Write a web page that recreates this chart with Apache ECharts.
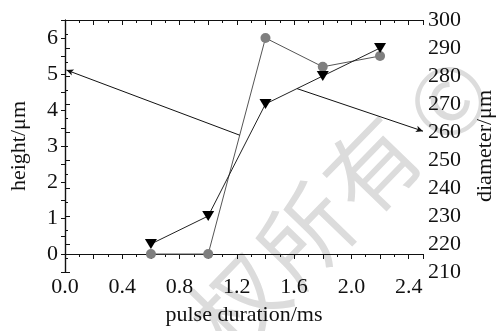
<!DOCTYPE html>
<html>
<head>
<meta charset="utf-8">
<script src="https://cdn.jsdelivr.net/npm/echarts@6/dist/echarts.min.js"></script>
<style>
  html, body { margin: 0; padding: 0; background: #fff; }
  #chart { width: 504px; height: 331px; }
</style>
</head>
<body>
<div id="chart"></div>
<script>
// values
const pulse = [0.6, 1.0, 1.4, 1.8, 2.2];          // pulse duration / ms
const height = [0, 0, 6.0, 5.2, 5.5];             // height / um (left axis)
const diameter = [220, 230, 270, 280, 290];       // diameter / um (right axis)
const heightTicks = [0, 1, 2, 3, 4, 5, 6];
const heightMinor = [-0.5, 0, 0.5, 1, 1.5, 2, 2.5, 3, 3.5, 4, 4.5, 5, 5.5, 6, 6.5];
// arrows: from the curve to its own axis
const heightArrow = [[1.22, 3.3], [0.01, 5.11]];
const diameterArrow = [[1.62, 275.5], [2.5, 260.3]];

const font = '"Liberation Serif", "DejaVu Serif", serif';
const ink = '#111';
const wm = '92px "Noto Sans CJK SC"';

let chart = echarts.init(document.getElementById('chart'));

let option = {
    animation: false,
    backgroundColor: '#fff',
    textStyle: { fontFamily: font, color: ink },
    grid: { left: 62.5, right: 72, top: 20, bottom: 54 },
    graphic: [
        // faint watermark behind the plot
        { type: 'text', z: -10, x: 238, y: 304, rotation: 0.8, style: { text: '权', font: wm, fill: '#dcdcdc', align: 'center', verticalAlign: 'middle' } },
        { type: 'text', z: -10, x: 305, y: 235, rotation: 0.8, style: { text: '所', font: wm, fill: '#dcdcdc', align: 'center', verticalAlign: 'middle' } },
        { type: 'text', z: -10, x: 372, y: 166, rotation: 0.8, style: { text: '有', font: wm, fill: '#dcdcdc', align: 'center', verticalAlign: 'middle' } },
        { type: 'text', z: -10, x: 448, y: 100, rotation: 0.8, style: { text: '©', font: wm, fill: '#dcdcdc', align: 'center', verticalAlign: 'middle' } }
    ],
    xAxis: [
        {
            type: 'value',
            min: 0,
            max: 2.5,
            interval: 0.2,
            name: 'pulse duration/ms',
            nameLocation: 'middle',
            nameGap: 32,
            nameTextStyle: { fontSize: 22, color: ink, fontFamily: font },
            axisLine: { show: true, lineStyle: { color: ink, width: 1.2 } },
            axisTick: { show: true, length: 5, lineStyle: { color: ink } },
            minorTick: { show: true, splitNumber: 2, length: 3, lineStyle: { color: ink } },
            splitLine: { show: false },
            axisLabel: {
                fontSize: 22,
                color: ink,
                fontFamily: font,
                margin: 4,
                showMaxLabel: false,
                formatter: function (v) {
                    let k = Math.round(v / 0.4);
                    return Math.abs(k * 0.4 - v) < 1e-6 ? v.toFixed(1) : '';
                }
            }
        },
        {
            type: 'value',
            position: 'top',
            min: 0,
            max: 2.5,
            interval: 0.2,
            axisLine: { show: true, lineStyle: { color: ink, width: 1.2 } },
            axisTick: { show: true, inside: true, length: 5, lineStyle: { color: ink } },
            minorTick: { show: true, splitNumber: 2, length: 3, lineStyle: { color: ink } },
            splitLine: { show: false },
            axisLabel: { show: false }
        }
    ],
    yAxis: [
        {
            type: 'value',
            position: 'left',
            min: -0.5,
            max: 6.5,
            name: 'height/\u03bcm',
            nameLocation: 'middle',
            nameRotate: 90,
            nameGap: 35,
            nameTextStyle: { fontSize: 22, color: ink, fontFamily: font },
            axisLine: { show: true, lineStyle: { color: ink, width: 1.2 } },
            axisTick: { show: true, length: 4, customValues: heightMinor, lineStyle: { color: ink } },
            splitLine: { show: false },
            axisLabel: { fontSize: 22, color: ink, fontFamily: font, margin: 7, customValues: heightTicks }
        },
        {
            type: 'value',
            position: 'right',
            min: 210,
            max: 300,
            interval: 10,
            name: 'diameter/\u03bcm',
            nameLocation: 'middle',
            nameRotate: 90,
            nameGap: 51,
            nameTextStyle: { fontSize: 22, color: ink, fontFamily: font },
            axisLine: { show: true, lineStyle: { color: ink, width: 1.2 } },
            axisTick: { show: true, length: 5, lineStyle: { color: ink } },
            minorTick: { show: true, splitNumber: 2, length: 3, lineStyle: { color: ink } },
            splitLine: { show: false },
            axisLabel: { fontSize: 22, color: ink, fontFamily: font, margin: 5 }
        }
    ],
    series: [
        {
            name: 'height',
            type: 'line',
            xAxisIndex: 0,
            yAxisIndex: 0,
            data: pulse.map((x, i) => [x, height[i]]),
            symbol: 'circle',
            symbolSize: 10,
            itemStyle: { color: '#7f7f7f' },
            lineStyle: { color: '#555', width: 1 },
            markLine: {
                silent: true,
                symbol: ['none', 'arrow'],
                symbolSize: [5, 7],
                label: { show: false },
                lineStyle: { color: ink, width: 1, type: 'solid' },
                data: [[{ coord: heightArrow[0] }, { coord: heightArrow[1] }]]
            }
        },
        {
            name: 'diameter',
            type: 'line',
            xAxisIndex: 0,
            yAxisIndex: 1,
            data: pulse.map((x, i) => [x, diameter[i]]),
            symbol: 'triangle',
            symbolRotate: 180,
            symbolSize: [12, 10],
            itemStyle: { color: '#000' },
            lineStyle: { color: '#222', width: 1 },
            markLine: {
                silent: true,
                symbol: ['none', 'arrow'],
                symbolSize: [5, 7],
                label: { show: false },
                lineStyle: { color: ink, width: 1, type: 'solid' },
                data: [[{ coord: diameterArrow[0] }, { coord: diameterArrow[1] }]]
            }
        }
    ]
};

option && chart.setOption(option);
</script>
</body>
</html>
